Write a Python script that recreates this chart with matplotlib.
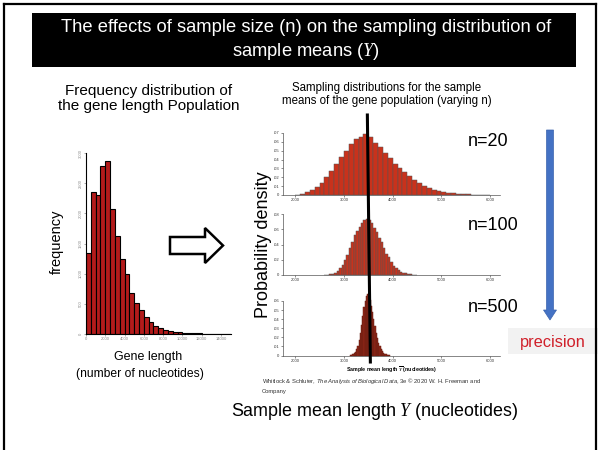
import numpy as np
import matplotlib.pyplot as plt
from matplotlib.lines import Line2D
from matplotlib.patches import Polygon, Rectangle, FancyArrow
from matplotlib.ticker import FuncFormatter

plt.rcParams['font.family'] = ['Liberation Sans', 'DejaVu Sans']
plt.rcParams['mathtext.fontset'] = 'custom'
plt.rcParams['mathtext.rm'] = 'Liberation Sans'
plt.rcParams['mathtext.it'] = 'Liberation Serif:italic'
plt.rcParams['mathtext.sf'] = 'Liberation Sans:italic'

# ---- data: population of gene lengths (bins of 500 nt) ----
pop_bin_start = 0
pop_bin_width = 500
pop_counts = [1335, 2355, 2300, 2785, 2868, 2079, 1632, 1241, 987, 684,
              513, 392, 287, 193, 138, 99, 66, 44, 33, 28,
              22, 20, 15, 10, 8, 6, 5, 4, 3, 3]

# ---- data: sampling distributions of the mean ----
n20_start, n20_width = 2000, 100
n20_props = [0.0005, 0.001, 0.003, 0.006, 0.009, 0.013, 0.020, 0.027, 0.035, 0.043,
             0.050, 0.058, 0.063, 0.065, 0.069, 0.066, 0.059, 0.054, 0.047, 0.042,
             0.035, 0.030, 0.026, 0.021, 0.017, 0.013, 0.010, 0.008, 0.006, 0.004,
             0.003, 0.0025, 0.002, 0.0015, 0.001, 0.0008, 0.0005, 0.0004, 0.0003, 0.0002]

n100_start, n100_width = 2600, 50
n100_props = [0.0002, 0.0004, 0.0008, 0.0015, 0.003, 0.005, 0.009, 0.013, 0.020, 0.026,
              0.036, 0.043, 0.052, 0.058, 0.063, 0.068, 0.072, 0.073, 0.072, 0.068,
              0.062, 0.056, 0.049, 0.043, 0.036, 0.028, 0.023, 0.017, 0.012, 0.009,
              0.006, 0.0045, 0.003, 0.002, 0.0013, 0.0008, 0.0005, 0.0003]

n500_start, n500_width = 3125, 25
n500_props = [0.0003, 0.0006, 0.0012, 0.0025, 0.004, 0.007, 0.011, 0.017, 0.025, 0.034,
              0.044, 0.053, 0.060, 0.065, 0.068, 0.066, 0.061, 0.055, 0.048, 0.040,
              0.032, 0.025, 0.019, 0.014, 0.010, 0.007, 0.0045, 0.003, 0.002, 0.0013,
              0.0008, 0.0005, 0.0003]

pop_mean = 3480
sample_sizes = ['n=20', 'n=100', 'n=500']

W, H = 598, 450
fig = plt.figure(figsize=(W / 100, H / 100), dpi=100)


def box(x0, y0, x1, y1):
    # pixel box (top-left origin) -> figure fraction rect
    return [x0 / W, 1 - y1 / H, (x1 - x0) / W, (y1 - y0) / H]


def fx(x):
    return x / W


def fy(y):
    return 1 - y / H


# outer frame
for xs, ys in [([4, 4], [4, 450]), ([4, 596], [4, 4]), ([596, 596], [4, 450])]:
    fig.add_artist(Line2D([fx(v) for v in xs], [fy(v) for v in ys],
                          color='black', lw=1.6, transform=fig.transFigure))

# title banner
fig.add_artist(Rectangle((fx(32), fy(67)), fx(576) - fx(32), fy(13) - fy(67),
                         facecolor='black', edgecolor='none', transform=fig.transFigure))
fig.text(fx(306), fy(28), 'The effects of sample size (n) on the sampling distribution of',
         color='white', fontsize=13.2, ha='center', va='center')
fig.text(fx(306), fy(52), 'sample means ($\\mathit{Y}$)',
         color='white', fontsize=13.2, ha='center', va='center')

# ---- population histogram ----
ax0 = fig.add_axes(box(86, 153, 230.6, 334))
pop_x = pop_bin_start + pop_bin_width * np.arange(len(pop_counts))
ax0.bar(pop_x, pop_counts, width=pop_bin_width, align='edge',
        color='#b31b1b', edgecolor='black', linewidth=0.8)
ax0.set_xlim(0, 15000)
ax0.set_ylim(0, 3000)
ax0.set_xticks(np.arange(0, 15000, 2000))
ax0.set_yticks(np.arange(0, 3001, 500))
ax0.tick_params(labelsize=3, colors='#888888', length=1.5, width=0.5, pad=1)
for lab in ax0.get_yticklabels():
    lab.set_rotation(90)
    lab.set_va('center')
for s in ['top', 'right']:
    ax0.spines[s].set_visible(False)
for s in ['left', 'bottom']:
    ax0.spines[s].set_linewidth(0.8)

fig.text(fx(149), fy(91), 'Frequency distribution of', fontsize=11, ha='center', va='center')
fig.text(fx(149), fy(106), 'the gene length Population', fontsize=11, ha='center', va='center')
fig.text(fx(57), fy(242), 'frequency', fontsize=10.5, rotation=90, ha='center', va='center')
fig.text(fx(148), fy(357), 'Gene length', fontsize=9, ha='center', va='center')
fig.text(fx(140), fy(374), '(number of nucleotides)', fontsize=8.7, ha='center', va='center')

# hollow arrow
arrow_pts = [(170, 237), (205, 237), (205, 228), (223, 245.5), (205, 263), (205, 254), (170, 254)]
fig.add_artist(Polygon([(fx(x), fy(y)) for x, y in arrow_pts], closed=True,
                       facecolor='white', edgecolor='black', lw=1.8,
                       transform=fig.transFigure))

# ---- sampling distributions ----
fig.text(fx(387), fy(88), 'Sampling distributions for the sample', fontsize=8.3, ha='center', va='center')
fig.text(fx(387), fy(101), 'means of the gene population (varying n)', fontsize=8.3, ha='center', va='center')

panels = [
    (box(283, 133, 500, 195), n20_start, n20_width, n20_props, 0.07, 0.01, '#c9321c', '#555555'),
    (box(283, 214, 500, 275), n100_start, n100_width, n100_props, 0.08, 0.02, '#c9321c', '#555555'),
    (box(283, 301, 500, 355.5), n500_start, n500_width, n500_props, 0.06, 0.01, '#8f2616', '#6a1d12'),
]
frac_fmt = FuncFormatter(lambda v, p: '0' if v == 0 else ('%.2f' % v).lstrip('0'))
axes = []
for rect, start, width, props, ytop, ystep, fc, ec in panels:
    ax = fig.add_axes(rect)
    xs = start + width * np.arange(len(props))
    ax.bar(xs, props, width=width, align='edge', color=fc, edgecolor=ec,
           linewidth=0.35, clip_on=False)
    ax.set_xlim(1750, 6200)
    ax.set_ylim(0, ytop)
    ax.set_xticks(np.arange(2000, 6001, 1000))
    ax.set_yticks(np.arange(0, ytop + 1e-9, ystep))
    ax.yaxis.set_major_formatter(frac_fmt)
    ax.tick_params(labelsize=3, colors='#333333', length=1.5, width=0.4, pad=1)
    for s in ['top', 'right']:
        ax.spines[s].set_visible(False)
    for s in ['left', 'bottom']:
        ax.spines[s].set_linewidth(0.5)
        ax.spines[s].set_color('#555555')
    ax.patch.set_alpha(0)
    axes.append(ax)

axes[2].set_xlabel('Sample mean length $\\overline{Y}$ (nucleotides)', fontsize=3.8,
                   fontweight='bold', labelpad=2)

for label, yy in zip(sample_sizes, [141, 225, 308]):
    fig.text(fx(468), fy(yy), label, fontsize=13, ha='left', va='center')

fig.text(fx(263), fy(245), 'Probability density', fontsize=13, rotation=90,
         ha='center', va='center')

# population mean line across panels
mx = fig.transFigure.inverted().transform(axes[0].transData.transform((pop_mean, 0)))[0]
fig.add_artist(Line2D([mx, mx + fx(3)], [fy(115), fy(362)], color='black', lw=2.2,
                      transform=fig.transFigure))

fig.text(fx(262), fy(381),
         'Whitlock & Schluter, $\\mathsf{The\\ Analysis\\ of\\ Biological\\ Data}$, 3e \u00a9 2020 W. H. Freeman and',
         fontsize=4.2, color='#333333', ha='left', va='center')
fig.text(fx(262), fy(391), 'Company', fontsize=4.2, color='#333333', ha='left', va='center')

fig.text(fx(375), fy(412), 'Sample mean length $\\mathit{Y}$ (nucleotides)', fontsize=12.9,
         ha='center', va='center')

# precision arrow and label
fig.add_artist(FancyArrow(fx(550), fy(130), 0, fy(320) - fy(130), width=fx(7),
                          head_width=fx(13), head_length=(fy(310) - fy(320)),
                          length_includes_head=True, facecolor='#4472c4',
                          edgecolor='#3a63ad', lw=0.5, transform=fig.transFigure))
fig.add_artist(Rectangle((fx(508), fy(354)), fx(598) - fx(508), fy(328) - fy(354),
                         facecolor='#f2f2f2', edgecolor='none', transform=fig.transFigure))
fig.text(fx(553), fy(342), 'precision', fontsize=11.8, color='#d0202a', ha='center', va='center')

fig.savefig('out.png', dpi=100)
